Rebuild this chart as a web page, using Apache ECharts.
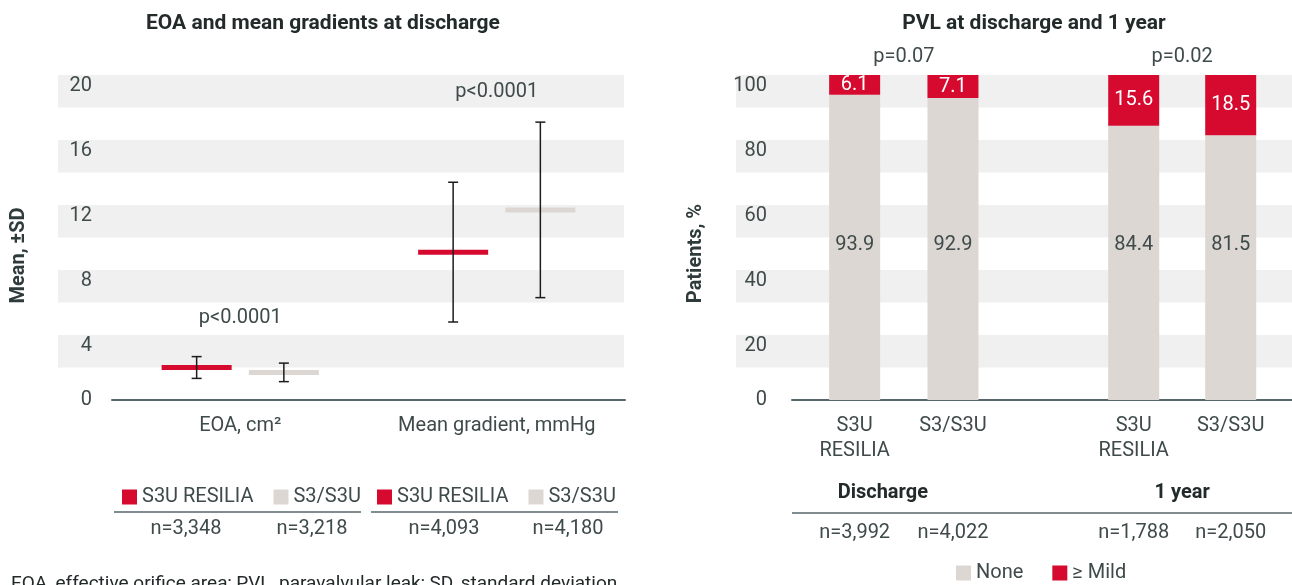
<!DOCTYPE html>
<html>
<head>
<meta charset="utf-8">
<script src="https://cdn.jsdelivr.net/npm/echarts@6/dist/echarts.min.js"></script>
<style>
  html, body { margin: 0; padding: 0; background: #fff; }
  #chart { width: 1292px; height: 585px; }
</style>
</head>
<body>
<div id="chart"></div>
<script>
// left panel: EOA and mean gradients (mean, SD)
const eoaGroups = ['EOA, cm²', 'Mean gradient, mmHg'];
const resiliaMean = [2.0, 9.1];
const resiliaSD = [0.67, 4.3];
const s3Mean = [1.7, 11.7];
const s3SD = [0.57, 5.4];
const leftP = ['p<0.0001', 'p<0.0001'];
const resiliaN = ['n=3,348', 'n=4,093'];
const s3N = ['n=3,218', 'n=4,180'];
const leftTicks = [0, 4, 8, 12, 16, 20];

// right panel: PVL at discharge and 1 year
const pvlTimes = ['Discharge', '1 year'];
const pvlValves = ['S3U\nRESILIA', 'S3/S3U'];
const pvlNone = [[93.9, 92.9], [84.4, 81.5]];
const pvlMild = [[6.1, 7.1], [15.6, 18.5]];
const pvlN = [['n=3,992', 'n=4,022'], ['n=1,788', 'n=2,050']];
const pvlP = ['p=0.07', 'p=0.02'];
const rightTicks = [0, 20, 40, 60, 80, 100];

const RED = '#d50a2e';
const GREY = '#dcd7d2';
const BAND = '#f0f0f0';
const TXT = '#3f4a4a';
const DARK = '#222a2a';
const AXIS = '#56666a';
const FONT = 'Roboto';

function tickFormatter(ticks) {
  return function (v) {
    if (v === 0) return '{z|0}';
    return ticks.includes(v) ? '{t|' + v + '}' : '';
  };
}
const tickRich = {
  z: { fontSize: 20, color: TXT, fontFamily: FONT },
  t: { fontSize: 20, color: TXT, fontFamily: FONT, padding: [22, 0, 0, 0] }
};

function meanSd(shift, fill) {
  return function (params, api) {
    const band = api.size([1, 0])[0];
    const mid = api.coord([api.value(0), api.value(1)]);
    const hi = api.coord([api.value(0), api.value(1) + api.value(2)]);
    const lo = api.coord([api.value(0), api.value(1) - api.value(2)]);
    const x = mid[0] + shift * band;
    const w = band * 0.273;
    const ink = { stroke: '#1c1c1c', lineWidth: 1.5 };
    return {
      type: 'group',
      children: [
        { type: 'rect', shape: { x: x - w / 2, y: mid[1] - 2.5, width: w, height: 5 }, style: { fill: fill } },
        { type: 'line', shape: { x1: x, y1: hi[1], x2: x, y2: lo[1] }, style: ink },
        { type: 'line', shape: { x1: x - 5, y1: hi[1], x2: x + 5, y2: hi[1] }, style: ink },
        { type: 'line', shape: { x1: x - 5, y1: lo[1], x2: x + 5, y2: lo[1] }, style: ink }
      ]
    };
  };
}

const grids = [
  { left: 58, width: 566, top: 75, height: 325 },     // 0 left bands
  { left: 112, width: 513, top: 75, height: 325 },    // 1 left data
  { left: 736, right: 0, top: 75, height: 325 },      // 2 right bands
  { left: 792, right: 0, top: 75, height: 325 },      // 3 right frame
  { left: 805.5, width: 196.6, top: 75, height: 325 },// 4 discharge
  { left: 1085.2, width: 194, top: 75, height: 325 }  // 5 1 year
].map(g => Object.assign({ containLabel: false, outerBoundsMode: 'none' }, g));

const hiddenCat = (gi) => ({
  type: 'category', gridIndex: gi, data: [''],
  axisLine: { show: false }, axisTick: { show: false }, axisLabel: { show: false }
});

const xAxes = [
  hiddenCat(0),
  {
    type: 'category', gridIndex: 1, data: eoaGroups,
    axisLine: { lineStyle: { color: AXIS, width: 2 } },
    axisTick: { show: false },
    axisLabel: { color: TXT, fontSize: 20, fontFamily: FONT, margin: 13, lineHeight: 25 }
  },
  hiddenCat(2),
  {
    type: 'category', gridIndex: 3, data: [''],
    axisLine: { lineStyle: { color: AXIS, width: 2 } },
    axisTick: { show: false }, axisLabel: { show: false }
  }
];
pvlTimes.forEach((t, g) => {
  const gi = 4 + g;
  xAxes.push({
    type: 'category', gridIndex: gi, data: pvlValves,
    axisLine: { show: false }, axisTick: { show: false },
    axisLabel: { color: TXT, fontSize: 20, fontFamily: FONT, margin: 13, lineHeight: 25 },
    name: t, nameLocation: 'middle', nameGap: 83,
    nameTextStyle: {
      fontSize: 20, fontWeight: 'bold', color: DARK, fontFamily: FONT,
      padding: g === 0 ? [0, 42, 0, 0] : 0
    }
  });
  xAxes.push({
    type: 'category', gridIndex: gi, data: pvlValves, position: 'top',
    axisLine: { show: false }, axisTick: { show: false }, axisLabel: { show: false },
    name: pvlP[g], nameLocation: 'middle', nameGap: 8,
    nameTextStyle: { fontSize: 20, color: TXT, fontFamily: FONT }
  });
  xAxes.push({
    type: 'category', gridIndex: gi, data: pvlN[g], position: 'bottom', offset: 120,
    axisLine: { show: false }, axisTick: { show: false },
    axisLabel: { color: TXT, fontSize: 20, fontFamily: FONT, margin: 3 }
  });
});
const xIdx = { discharge: 4, year: 7 };

const bandAxis = (gi, max, interval) => ({
  type: 'value', gridIndex: gi, min: 0, max: max, interval: interval,
  axisLine: { show: false }, axisTick: { show: false }, axisLabel: { show: false },
  splitLine: { show: false },
  splitArea: { show: true, areaStyle: { color: ['rgba(255,255,255,0)', BAND] } }
});
const plainAxis = (gi, max, interval) => ({
  type: 'value', gridIndex: gi, min: 0, max: max, interval: interval,
  axisLine: { show: false }, axisTick: { show: false }, axisLabel: { show: false },
  splitLine: { show: false }
});

const yAxes = [
  bandAxis(0, 20, 2),
  Object.assign(plainAxis(1, 20, 2), {
    axisLabel: { formatter: tickFormatter(leftTicks), rich: tickRich, margin: 20 },
    name: 'Mean, ±SD', nameLocation: 'middle', nameGap: 83,
    nameTextStyle: { fontSize: 20, fontWeight: 'bold', color: '#2f3b3b', fontFamily: FONT, padding: [0, 36, 0, 0] }
  }),
  bandAxis(2, 100, 10),
  Object.assign(plainAxis(3, 100, 10), {
    axisLabel: { formatter: tickFormatter(rightTicks), rich: tickRich, margin: 25 },
    name: 'Patients, %', nameLocation: 'middle', nameGap: 86,
    nameTextStyle: { fontSize: 20, fontWeight: 'bold', color: '#2f3b3b', fontFamily: FONT, padding: [0, 32, 0, 0] }
  }),
  plainAxis(4, 100, 10),
  plainAxis(5, 100, 10)
];

const series = [
  {
    type: 'custom', name: 'S3U RESILIA', xAxisIndex: 1, yAxisIndex: 1,
    itemStyle: { color: RED },
    renderItem: meanSd(-0.17, RED),
    data: eoaGroups.map((g, i) => [i, resiliaMean[i], resiliaSD[i]])
  },
  {
    type: 'custom', name: 'S3/S3U', xAxisIndex: 1, yAxisIndex: 1,
    itemStyle: { color: GREY },
    renderItem: meanSd(0.17, GREY),
    data: eoaGroups.map((g, i) => [i, s3Mean[i], s3SD[i]])
  },
  {
    type: 'scatter', xAxisIndex: 1, yAxisIndex: 1, symbolSize: 0, silent: true, clip: false,
    itemStyle: { opacity: 1 },
    label: {
      show: true, position: 'inside', fontSize: 20, color: TXT, fontFamily: FONT, opacity: 1,
      formatter: p => leftP[p.dataIndex]
    },
    data: [[0, 5.05], [1, 18.95]]
  }
];
pvlTimes.forEach((t, g) => {
  const xi = g === 0 ? xIdx.discharge : xIdx.year;
  series.push({
    type: 'bar', name: 'None', xAxisIndex: xi, yAxisIndex: 4 + g, stack: 'pvl' + g,
    barWidth: 51, itemStyle: { color: GREY },
    label: { show: true, position: 'insideBottom', distance: 145, fontSize: 20, color: TXT, fontFamily: FONT },
    data: pvlNone[g]
  });
  series.push({
    type: 'bar', name: '≥ Mild', xAxisIndex: xi, yAxisIndex: 4 + g, stack: 'pvl' + g,
    barWidth: 51, itemStyle: { color: RED },
    label: { show: true, position: 'inside', fontSize: 20, color: '#fff', fontFamily: FONT },
    data: pvlMild[g]
  });
});

const legendBase = {
  orient: 'horizontal', icon: 'rect', itemWidth: 15, itemHeight: 15,
  selectedMode: false, padding: 0,
  textStyle: { fontSize: 20, color: TXT, fontFamily: FONT }
};

const textLine = (x1, x2, y) => ({
  type: 'line', shape: { x1: x1, y1: y, x2: x2, y2: y },
  style: { stroke: AXIS, lineWidth: 1.5 }
});
const nText = (x, y, s) => ({
  type: 'text', x: x, y: y,
  style: { text: s, fontSize: 20, fill: TXT, fontFamily: FONT, align: 'center', verticalAlign: 'middle' }
});

const chart = echarts.init(document.getElementById('chart'));
chart.setOption({
  animation: false,
  textStyle: { fontFamily: FONT },
  title: [
    { text: 'EOA and mean gradients at discharge', left: 318, top: 8, textAlign: 'center',
      textStyle: { fontSize: 21, fontWeight: 'bold', color: DARK, fontFamily: FONT } },
    { text: 'PVL at discharge and 1 year', left: 1029, top: 8, textAlign: 'center',
      textStyle: { fontSize: 21, fontWeight: 'bold', color: DARK, fontFamily: FONT } }
  ],
  legend: [
    Object.assign({ left: 122, top: 487, itemGap: 20, data: ['S3U RESILIA', 'S3/S3U'] }, legendBase),
    Object.assign({ left: 377, top: 487, itemGap: 20, data: ['S3U RESILIA', 'S3/S3U'] }, legendBase),
    Object.assign({ left: 956, top: 563, itemGap: 29, data: ['None', '≥ Mild'] }, legendBase)
  ],
  grid: grids,
  xAxis: xAxes,
  yAxis: yAxes,
  series: series,
  graphic: [
    textLine(114, 361, 512),
    textLine(371, 618, 512),
    textLine(792, 1292, 513),
    nText(186, 529, resiliaN[0]),
    nText(312, 529, s3N[0]),
    nText(444, 529, resiliaN[1]),
    nText(568, 529, s3N[1]),
    {
      type: 'text', x: 11, y: 575,
      style: { text: 'EOA, effective orifice area; PVL, paravalvular leak; SD, standard deviation',
        fontSize: 19, fill: DARK, fontFamily: FONT }
    }
  ]
});
</script>
</body>
</html>
